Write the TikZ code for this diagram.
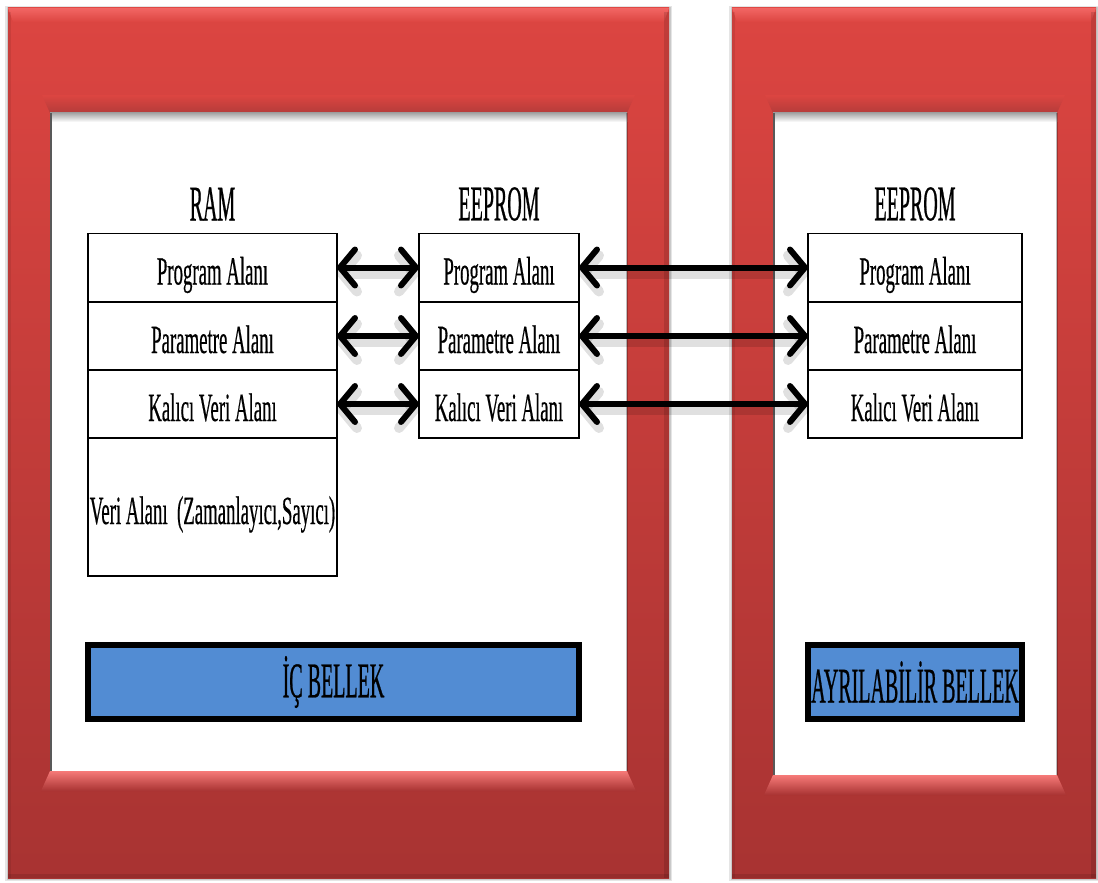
\documentclass[tikz,border=0pt]{standalone}
\usepackage{fontspec}
\setmainfont{Liberation Serif}
\newfontfamily\boxfont[FakeStretch=0.47,FakeBold=0.4]{Liberation Serif}
\newfontfamily\headfont[FakeStretch=0.4,FakeBold=0.5]{Liberation Serif}
\usetikzlibrary{arrows.meta}
\definecolor{frameTop}{RGB}{220,69,65}
\definecolor{frameMid}{RGB}{208,65,62}
\definecolor{frameBot}{RGB}{168,51,50}
\definecolor{frameHi}{RGB}{242,102,100}
\definecolor{frameDark}{RGB}{180,60,58}
\definecolor{bevelHi}{RGB}{246,122,120}
\definecolor{memblue}{RGB}{82,140,211}
% #1,#2 outer top-left; #3,#4 outer bottom-right; #5,#6 inner top-left; #7,#8 inner bottom-right
\newcommand{\myframe}[8]{%
  \fill[black,opacity=0.10] (#1-3,#2-2) rectangle (#3+3,#4+3);
  \fill[black,opacity=0.12] (#1-1.5,#2-1) rectangle (#3+1.5,#4+1.5);
  \shade[top color=frameTop, middle color=frameMid, bottom color=frameBot] (#1,#2) rectangle (#3,#4);
  \shade[top color=frameHi, bottom color=frameTop] (#1,#2) -- (#3,#2) -- (#3-5,#2+14) -- (#1+5,#2+14) -- cycle;
  \shade[top color=frameTop, bottom color=frameDark] (#5-8,#6-18) -- (#7+8,#6-18) -- (#7,#6) -- (#5,#6) -- cycle;
  \shade[top color=bevelHi, bottom color=frameBot] (#5,#8) -- (#7,#8) -- (#7+9,#8+20) -- (#5-9,#8+20) -- cycle;
  \fill[black,opacity=0.12] (#3-5,#2+4) rectangle (#3,#4);
  \fill[black,opacity=0.08] (#1,#2+4) rectangle (#1+3,#4);
  \fill[black,opacity=0.10] (#1,#4-4) rectangle (#3,#4);
  \fill[white] (#5,#6) rectangle (#7,#8);
  \shade[top color=black!35, bottom color=white] (#5,#6) rectangle (#7,#6+9);
  \fill[black!65] (#5,#6) rectangle (#5+1.5,#8);
  \fill[black,opacity=0.25] (#7-1,#6) rectangle (#7+1,#8);
}
\tikzset{
  cell/.style={draw=black, line width=0.9pt, fill=white, inner sep=0pt, outer sep=0pt,
    font=\boxfont\fontsize{20}{23}\selectfont, text=black, text height=20pt, text depth=3pt},
  colA/.style={cell, minimum width=124.5pt},
  colB/.style={cell, minimum width=80pt},
  colC/.style={cell, minimum width=107pt},
  rowh/.style={minimum height=34pt},
  head/.style={inner sep=0pt, font=\headfont\fontsize{25}{30}\selectfont, text=black},
  memblock/.style={draw=black, line width=3pt, fill=memblue, inner sep=0pt, outer sep=0pt,
    minimum height=37pt, font=\headfont\fontsize{25}{30}\selectfont, text=black},
  dbl/.style={{Straight Barb[length=7.5pt,width=18pt,round]}-{Straight Barb[length=7.5pt,width=18pt,round]},
    line width=3pt, black},
  dblshadow/.style={dbl, black, opacity=0.12, line width=5pt}
}
\begin{document}
\begin{tikzpicture}[x=0.5pt,y=-0.5pt]
\useasboundingbox (0,0) rectangle (1098,883);
\fill[white] (0,0) rectangle (1098,883);

\myframe{8}{8}{669}{878}{50}{113}{627}{771}
\myframe{732}{8}{1096}{878}{773}{113}{1057}{775}

% labels
\node[head] (ramL) at (212.5,204) {RAM};
\node[head] (eeL) at (499,204) {EEPROM};
\node[head] (exL) at (915,204) {EEPROM};

% RAM column
\node[colA,rowh] (ramP) at (212.5,267.5) {Program Alanı};
\node[colA,rowh] (ramPa) at (212.5,336) {Parametre Alanı};
\node[colA,rowh] (ramK) at (212.5,404) {Kalıcı Veri Alanı};
\node[colA,minimum height=69pt] (ramV) at (212.5,507) {Veri Alanı~ (Zamanlayıcı,Sayıcı)};

% internal EEPROM
\node[colB,rowh] (eeP) at (499,267.5) {Program Alanı};
\node[colB,rowh] (eePa) at (499,336) {Parametre Alanı};
\node[colB,rowh] (eeK) at (499,404) {Kalıcı Veri Alanı};

% removable EEPROM
\node[colC,rowh] (exP) at (915,267.5) {Program Alanı};
\node[colC,rowh] (exPa) at (915,336) {Parametre Alanı};
\node[colC,rowh] (exK) at (915,404) {Kalıcı Veri Alanı};

% memory blocks
\node[memblock, minimum width=245.5pt] (ic) at (333.5,682) {İÇ BELLEK};
\node[memblock, minimum width=107pt] (ayr) at (915,682) {AYRILABİLİR BELLEK};

% arrow shadows
\foreach \a/\b in {ramP/eeP, ramPa/eePa, ramK/eeK, eeP/exP, eePa/exPa, eeK/exK}{
  \draw[dblshadow] ([yshift=-3pt]\a.east) -- ([yshift=-3pt]\b.west);
}
% arrows
\draw[dbl] (ramP.east) -- (eeP.west);
\draw[dbl] (ramPa.east) -- (eePa.west);
\draw[dbl] (ramK.east) -- (eeK.west);
\draw[dbl] (eeP.east) -- (exP.west);
\draw[dbl] (eePa.east) -- (exPa.west);
\draw[dbl] (eeK.east) -- (exK.west);
\end{tikzpicture}
\end{document}
